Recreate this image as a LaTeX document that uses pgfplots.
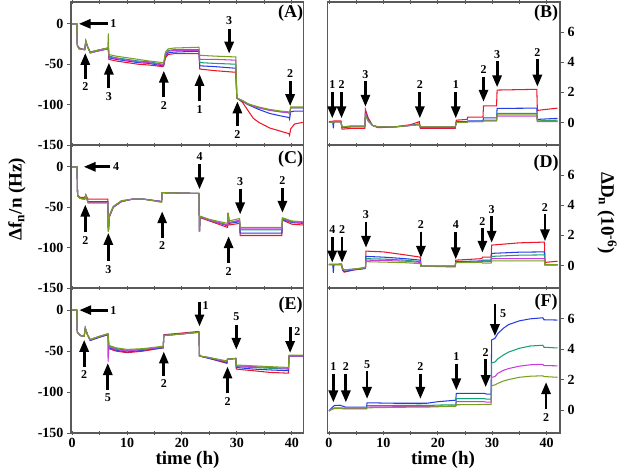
\documentclass[border=0pt]{standalone}
\usepackage{fontspec}
\setmainfont{Liberation Serif}
\usepackage{pgfplots}
\usepackage{pgfplotstable}
\pgfplotsset{compat=1.18}
\usetikzlibrary{arrows.meta}

\definecolor{colR}{RGB}{240,20,40}
\definecolor{colB}{RGB}{40,60,230}
\definecolor{colG}{RGB}{20,160,120}
\definecolor{colM}{RGB}{200,60,220}
\definecolor{colO}{RGB}{120,160,30}
\definecolor{frame}{RGB}{90,90,90}

% panel A: frequency, Hz
\pgfplotstableread{
t     r     b     g     m     o
0     0     0     0     0     0
0.85  0     0     0     0     0
0.95  -26   -27   -27   -27   -27
1.3   -30   -31   -31   -31   -31
2.3   -32   -32   -32   -32   -32
2.5   -22   -22   -21   -22   -21
2.8   -28   -28   -28   -28   -28
3.3   -35   -36   -35   -36   -36
4.5   -33   -34   -33   -34   -33
6.5   -30   -31   -30   -31   -30
6.6   -30   -31   -30   -31   -12
6.7   -44   -42   -40   -41   -38
8     -46   -44   -42   -43   -40
10    -48   -46   -44   -45   -42
12    -50   -48   -46   -47   -44
14    -51   -49   -47   -48   -46
16.5  -53   -52   -50   -51   -48
16.7  -52   -50   -49   -50   -47
17.0  -42   -40   -37   -38   -35
17.5  -38   -36   -33   -34   -31
18.5  -37   -35   -32   -33   -30
23.1  -37   -34   -32   -33   -29
23.25 -56   -52   -48   -44   -39
26    -58   -53   -49   -44   -40
29.8  -60   -55   -50   -45   -41
30.0  -92   -92   -92   -92   -92
31    -97   -96   -95   -95   -95
32    -107  -100  -99   -99   -99
33    -117  -103  -102  -102  -101
34    -122  -106  -104  -104  -103
36    -129  -111  -107  -107  -106
38    -133  -114  -109  -109  -108
39.5  -136  -116  -110  -110  -109
39.6  -138  -118  -112  -112  -111
39.8  -130  -109  -104  -104  -103
40.5  -124  -108  -104  -104  -103
42    -122  -108  -104  -104  -103
}\tabA

% panel B: dissipation, 1e-6
\pgfplotstableread{
t     r     b     g     m     o
0     0.05  0     0     0     0
0.7   0.08  0.02  0.02  0.02  0.02
0.8   0.08  -0.4  0.02  0.02  0.02
0.9   0.1   0.05  0.03  0.03  0.03
2.2   0.1   0.05  0.03  0.03  0.03
2.4   -0.45 -0.35 -0.3  -0.3  -0.3
4     -0.4  -0.3  -0.25 -0.25 -0.25
6.6   -0.4  -0.3  -0.25 -0.25 -0.25
6.7   0.85  0.6   0.5   0.5   0.5
7.2   0.3   0.2   0.1   0.1   0.1
8     -0.2  -0.2  -0.2  -0.2  -0.2
9     -0.35 -0.3  -0.3  -0.3  -0.3
12    -0.3  -0.3  -0.3  -0.3  -0.3
15    -0.15 -0.2  -0.2  -0.2  -0.2
16.6  0.05  -0.1  -0.15 -0.15 -0.15
16.8  -0.4  -0.35 -0.3  -0.3  -0.3
23.2  -0.4  -0.35 -0.3  -0.3  -0.3
23.4  0.15  0.05  0     0     0
25.4  0.2   0.05  0     0     0
25.5  0.35  0.1   0.05  0.05  0.05
28.3  0.35  0.1   0.08  0.05  0.05
28.4  1.1   0.3   0.15  0.1   0.1
30.8  1.1   0.3   0.15  0.1   0.1
30.9  2.15  0.93  0.6   0.42  0.5
38.2  2.2   0.95  0.6   0.42  0.5
38.3  0.8   0.2   0.1   0.05  0.08
42    0.95  0.27  0.15  0.05  0.08
}\tabB

% panel C: frequency, Hz
\pgfplotstableread{
t     r     b     g     m     o
0     0     0     0     0     0
0.9   0     0     0     0     0
1.0   -35   -36   -36   -36   -36
1.5   -38   -39   -39   -39   -39
2.3   -38   -40   -40   -40   -40
2.5   -35   -36   -35   -36   -35
2.9   -40   -43   -44   -44   -45
6.5   -40   -43   -44   -44   -45
6.6   -80   -80   -80   -80   -80
6.8   -62   -61   -60   -61   -60
7.5   -50   -50   -49   -50   -49
9     -43   -43   -42   -43   -42
11    -40   -40   -40   -40   -40
13    -40   -40   -40   -40   -40
16.3  -43   -43   -43   -43   -44
16.4  -32   -32   -32   -32   -32
23.1  -33   -33   -33   -33   -33
23.2  -80   -80   -80   -80   -80
23.3  -63   -62   -62   -62   -61
25    -67   -66   -66   -66   -65
28.3  -75   -73   -72   -72   -70
28.4  -57   -57   -57   -57   -57
28.6  -72   -70   -69   -69   -67
30.5  -70   -68   -67   -66   -64
30.6  -85   -82   -78   -77   -75
38.2  -85   -82   -78   -77   -75
38.3  -66   -65   -64   -64   -63
40    -71   -69   -68   -68   -67
42    -72   -70   -69   -69   -68
}\tabC

% panel D: dissipation, 1e-6
\pgfplotstableread{
t     r     b     g     m     o
0     0.08  0.05  0.05  0.05  0.05
0.7   0.08  0.05  0.05  0.05  0.05
0.8   0.08  -0.5  0.05  0.05  0.05
0.9   0.08  0.05  0.05  0.05  0.05
2.3   0.1   0.05  0.05  0.05  0.05
2.5   -0.3  -0.3  -0.2  -0.2  -0.25
2.8   -0.45 -0.4  -0.3  -0.3  -0.3
4.5   -0.3  -0.3  -0.25 -0.25 -0.25
6.7   -0.2  -0.2  -0.15 -0.15 -0.15
6.8   0.95  0.6   0.45  0.35  0.25
10    0.9   0.55  0.42  0.33  0.22
14    0.7   0.45  0.35  0.28  0.18
16.8  0.55  0.35  0.25  0.2   0.12
16.9  -0.05 -0.05 -0.05 -0.05 -0.05
23.2  -0.1  -0.05 -0.05 -0.05 -0.05
23.3  0.35  0.25  0.2   0.2   0.18
28.1  0.45  0.3   0.25  0.22  0.2
28.2  0.55  0.35  0.3   0.25  0.15
29.8  0.55  0.35  0.3   0.25  0.15
29.9  1.35  0.8   0.6   0.45  0.3
35    1.5   0.88  0.68  0.45  0.3
39.6  1.55  0.9   0.7   0.45  0.3
39.7  0.2   0.05  0.05  0.02  0.05
42    0.28  0.05  0.05  0.02  0.05
}\tabD

% panel E: frequency, Hz
\pgfplotstableread{
t     r     b     g     m     o
0     0     0     0     0     0
0.85  0     0     0     0     0
0.95  -27   -27   -27   -27   -27
1.5   -31   -31   -31   -31   -31
2.2   -32   -32   -32   -32   -32
2.4   -22   -22   -22   -22   -22
2.8   -30   -30   -30   -30   -30
3.3   -37   -37   -36   -36   -36
5     -33   -33   -32   -32   -32
6.5   -30   -30   -29   -29   -29
6.55  -30   -30   -29   -63   -29
6.7   -47   -46   -44   -45   -43
8     -50   -49   -47   -48   -46
10    -52   -51   -49   -50   -48
13    -50   -49   -48   -48   -47
16.6  -46   -46   -45   -45   -44
16.7  -30   -31   -31   -31   -31
20    -28   -29   -29   -29   -29
23.1  -26   -27   -27   -27   -27
23.2  -56   -56   -56   -56   -56
25    -59   -59   -58   -58   -58
28.2  -65   -64   -63   -63   -62
28.3  -60   -60   -60   -60   -60
29.8  -59   -59   -59   -59   -59
29.9  -72   -70   -69   -68   -67
33    -74   -72   -70   -69   -68
36    -76   -73   -71   -70   -69
39.4  -77   -74   -72   -71   -70
39.5  -56   -56   -56   -56   -55
42    -56   -56   -56   -56   -55
}\tabE

% panel F: dissipation, 1e-6 (no red trace)
\pgfplotstableread{
t     b     g     m     o
0     -0.05 -0.05 -0.05 -0.05
0.5   0.15  0.05  0.05  0.05
1     0.3   0.15  0.12  0.1
2     0.32  0.15  0.12  0.1
3     0.2   0.12  0.1   0.08
6.9   0.2   0.12  0.1   0.08
7.0   0.48  0.3   0.2   0.15
12    0.45  0.3   0.22  0.18
16.8  0.45  0.32  0.23  0.2
18    0.45  0.3   0.23  0.2
20    0.55  0.33  0.25  0.22
23.3  0.65  0.35  0.28  0.25
23.4  1.1   0.75  0.55  0.35
28.5  1.1   0.75  0.55  0.37
29.0  1.05  0.72  0.52  0.37
29.8  1.05  0.72  0.52  0.38
29.9  4.6   3.1   2.15  1.6
30.5  4.7   3.15  2.2   1.65
31    5.0   3.35  2.4   1.75
32    5.35  3.6   2.6   1.9
33    5.6   3.8   2.72  2.0
35    5.85  4.05  2.88  2.15
37    5.98  4.2   2.97  2.22
39.3  6.05  4.25  3.0   2.25
39.5  5.92  4.12  2.92  2.2
42    5.9   4.07  2.9   2.15
}\tabF

\pgfplotsset{
  panel/.style={
    scale only axis, clip=false,
    axis line style={draw=frame, line width=1.1pt},
    every tick/.style={draw=frame, line width=0.9pt},
    major tick length=4pt, minor tick length=4pt,
    xtick={0,10,20,30,40}, minor xtick={5,15,25,35},
    xtick pos=both, xtick align=center,
    ytick align=outside,
    tick label style={font=\fontsize{14}{14}\selectfont\bfseries},
    /pgf/number format/assume math mode=true,
    every axis plot/.append style={line width=1.05pt},
  },
  fpanel/.style={panel, xmin=-0.2, xmax=42.1, ymin=-150, ymax=27,
    ytick={-150,-100,-50,0}, ytick pos=left, width=232.3pt},
  dpanel/.style={panel, xmin=-0.31, xmax=42.46, ymin=-1.5, ymax=8,
    ytick={0,2,4,6}, ytick pos=right, yticklabel pos=right, width=232.7pt},
  nolab/.style={xticklabels={,,,,}},
}
\tikzset{
  arr/.style={line width=2.8pt, -{Triangle[length=12pt,width=9pt]}},
  lab/.style={font=\fontsize{12}{12}\selectfont\bfseries, inner sep=0pt},
  plab/.style={font=\fontsize{18}{18}\selectfont\bfseries, inner sep=0pt},
}

\begin{document}
\begin{tikzpicture}
\useasboundingbox (0pt,0pt) rectangle (624pt,474pt);

% ---------- A ----------
\begin{axis}[fpanel, nolab, at={(71pt,329pt)}, anchor=south west, height=143pt]
\addplot[colR] table[x=t,y=r]{\tabA};
\addplot[colB] table[x=t,y=b]{\tabA};
\addplot[colG] table[x=t,y=g]{\tabA};
\addplot[colM] table[x=t,y=m]{\tabA};
\addplot[colO] table[x=t,y=o]{\tabA};
\draw[arr] (6.5,0) -- (1.2,0); \node[lab] at (7.5,0) {1};
\draw[arr] (2.4,-68) -- (2.4,-36); \node[lab] at (2.4,-78) {2};
\draw[arr] (6.7,-80) -- (6.7,-48); \node[lab] at (6.7,-90) {3};
\draw[arr] (16.7,-91) -- (16.7,-58); \node[lab] at (16.7,-101) {2};
\draw[arr] (23.2,-96) -- (23.2,-62); \node[lab] at (23.2,-106) {1};
\draw[arr] (28.6,-6) -- (28.6,-37); \node[lab] at (28.6,4) {3};
\draw[arr] (30.1,-127) -- (30.1,-96); \node[lab] at (30.1,-137) {2};
\draw[arr] (39.7,-71) -- (39.7,-102); \node[lab] at (39.7,-61) {2};
\node[plab] at (39.8,13) {(A)};
\end{axis}

% ---------- B ----------
\begin{axis}[dpanel, nolab, at={(327.3pt,329pt)}, anchor=south west, height=143pt]
\addplot[colR] table[x=t,y=r]{\tabB};
\addplot[colB] table[x=t,y=b]{\tabB};
\addplot[colG] table[x=t,y=g]{\tabB};
\addplot[colM] table[x=t,y=m]{\tabB};
\addplot[colO] table[x=t,y=o]{\tabB};
\draw[arr] (0.6,2.05) -- (0.6,0.27); \node[lab] at (0.6,2.5) {1};
\draw[arr] (2.3,2.05) -- (2.3,0.27); \node[lab] at (2.3,2.5) {2};
\draw[arr] (6.7,2.75) -- (6.7,1.04); \node[lab] at (6.7,3.2) {3};
\draw[arr] (16.7,2.05) -- (16.7,0.27); \node[lab] at (16.7,2.5) {2};
\draw[arr] (23.3,2.05) -- (23.3,0.27); \node[lab] at (23.3,2.5) {1};
\draw[arr] (28.4,3.05) -- (28.4,1.37); \node[lab] at (28.4,3.5) {2};
\draw[arr] (30.9,4.05) -- (30.9,2.33); \node[lab] at (30.9,4.5) {3};
\draw[arr] (38.3,4.19) -- (38.3,2.37); \node[lab] at (38.3,4.64) {2};
\node[plab] at (39.9,7.27) {(B)};
\end{axis}

% ---------- C ----------
\begin{axis}[fpanel, nolab, at={(71pt,186pt)}, anchor=south west, height=143pt]
\addplot[colR] table[x=t,y=r]{\tabC};
\addplot[colB] table[x=t,y=b]{\tabC};
\addplot[colG] table[x=t,y=g]{\tabC};
\addplot[colM] table[x=t,y=m]{\tabC};
\addplot[colO] table[x=t,y=o]{\tabC};
\draw[arr] (6.9,0) -- (2.1,0); \node[lab] at (8.0,0) {4};
\draw[arr] (2.4,-81) -- (2.4,-46.7); \node[lab] at (2.4,-91) {2};
\draw[arr] (6.6,-117) -- (6.6,-81.7); \node[lab] at (6.6,-127) {3};
\draw[arr] (16.4,-88) -- (16.4,-55); \node[lab] at (16.4,-98) {2};
\draw[arr] (23.2,3) -- (23.2,-28); \node[lab] at (23.2,13) {4};
\draw[arr] (28.5,-119) -- (28.5,-85.8); \node[lab] at (28.5,-129) {2};
\draw[arr] (30.6,-27.8) -- (30.6,-59); \node[lab] at (30.6,-17.8) {3};
\draw[arr] (38.3,-26.5) -- (38.3,-57); \node[lab] at (38.3,-16.5) {2};
\node[plab] at (39.8,9) {(C)};
\end{axis}

% ---------- D ----------
\begin{axis}[dpanel, nolab, at={(327.3pt,186pt)}, anchor=south west, height=143pt]
\addplot[colR] table[x=t,y=r]{\tabD};
\addplot[colB] table[x=t,y=b]{\tabD};
\addplot[colG] table[x=t,y=g]{\tabD};
\addplot[colM] table[x=t,y=m]{\tabD};
\addplot[colO] table[x=t,y=o]{\tabD};
\draw[arr] (0.6,1.92) -- (0.6,0.18); \node[lab] at (0.6,2.37) {4};
\draw[arr] (2.4,1.92) -- (2.4,0.18); \node[lab] at (2.4,2.37) {2};
\draw[arr] (6.8,2.91) -- (6.8,1.17); \node[lab] at (6.8,3.36) {3};
\draw[arr] (16.9,2.25) -- (16.9,0.5); \node[lab] at (16.9,2.7) {2};
\draw[arr] (23.3,2.25) -- (23.3,0.4); \node[lab] at (23.3,2.7) {4};
\draw[arr] (28.2,2.47) -- (28.2,0.84); \node[lab] at (28.2,2.92) {2};
\draw[arr] (29.9,3.29) -- (29.9,1.5); \node[lab] at (29.9,3.74) {3};
\draw[arr] (39.7,3.42) -- (39.7,1.6); \node[lab] at (39.7,3.87) {2};
\node[plab] at (39.9,6.77) {(D)};
\end{axis}

% ---------- E ----------
\begin{axis}[fpanel, at={(71pt,41pt)}, anchor=south west, height=145pt]
\addplot[colR] table[x=t,y=r]{\tabE};
\addplot[colB] table[x=t,y=b]{\tabE};
\addplot[colG] table[x=t,y=g]{\tabE};
\addplot[colM] table[x=t,y=m]{\tabE};
\addplot[colO] table[x=t,y=o]{\tabE};
\draw[arr] (6.5,0) -- (1.3,0); \node[lab] at (7.5,0) {1};
\draw[arr] (2.2,-69) -- (2.2,-36.2); \node[lab] at (2.2,-79) {2};
\draw[arr] (6.5,-97) -- (6.5,-64.6); \node[lab] at (6.5,-107) {5};
\draw[arr] (16.7,-80) -- (16.7,-50.5); \node[lab] at (16.7,-90) {2};
\draw[arr] (23.2,10.5) -- (23.2,-20); \node[lab] at (24.3,6) {1};
\draw[arr] (28.3,-101.5) -- (28.3,-68.8); \node[lab] at (28.3,-111.5) {2};
\draw[arr] (29.9,-17.8) -- (29.9,-48.4); \node[lab] at (29.9,-7.8) {5};
\draw[arr] (39.7,-20) -- (39.7,-52.4); \node[lab] at (41,-26) {2};
\node[plab] at (39.8,6.5) {(E)};
\end{axis}

% ---------- F ----------
\begin{axis}[dpanel, at={(327.3pt,41pt)}, anchor=south west, height=145pt]
\addplot[colB] table[x=t,y=b]{\tabF};
\addplot[colG] table[x=t,y=g]{\tabF};
\addplot[colM] table[x=t,y=m]{\tabF};
\addplot[colO] table[x=t,y=o]{\tabF};
\draw[arr] (0.8,2.39) -- (0.8,0.5); \node[lab] at (0.8,2.84) {1};
\draw[arr] (3.1,2.39) -- (3.1,0.5); \node[lab] at (3.1,2.84) {2};
\draw[arr] (7.0,2.55) -- (7.0,0.73); \node[lab] at (7.0,3.0) {5};
\draw[arr] (16.8,2.39) -- (16.8,0.73); \node[lab] at (16.8,2.84) {2};
\draw[arr] (23.4,3.05) -- (23.4,1.29); \node[lab] at (23.4,3.5) {1};
\draw[arr] (28.8,3.32) -- (28.8,1.5); \node[lab] at (28.8,3.77) {2};
\draw[arr] (30.5,6.95) -- (30.5,4.84); \node[lab] at (32.0,6.3) {5};
\draw[arr] (39.9,0.04) -- (39.9,1.84); \node[lab] at (39.9,-0.49) {2};
\node[plab] at (39.9,7.07) {(F)};
\end{axis}

% axis titles
\node[rotate=90, font=\fontsize{19}{19}\selectfont\bfseries] at (17pt,275pt) {Δf\textsubscript{n}/n (Hz)};
\node[rotate=-90, font=\fontsize{19}{19}\selectfont\bfseries] at (607pt,261pt) {ΔD\textsubscript{n} (10\textsuperscript{-6})};
\node[font=\fontsize{19}{19}\selectfont\bfseries] at (187.5pt,14pt) {time (h)};
\node[font=\fontsize{19}{19}\selectfont\bfseries] at (443pt,14pt) {time (h)};
\end{tikzpicture}
\end{document}
